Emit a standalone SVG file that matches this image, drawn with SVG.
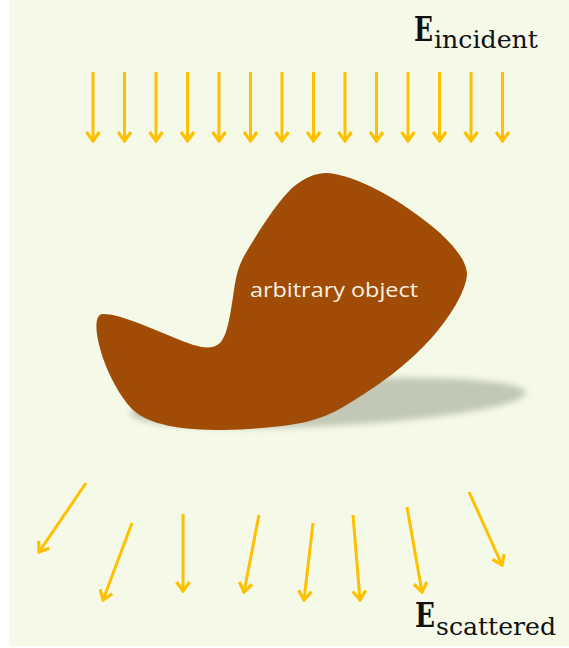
<svg xmlns="http://www.w3.org/2000/svg" width="569" height="648" viewBox="0 0 569 648">
<style>
.arr{stroke:#FFC000;stroke-width:3;fill:none;marker-end:url(#ah)}
.lbl{font-family:"DejaVu Serif","Liberation Serif",serif;fill:#111}
</style>
<defs>
<marker id="ah" markerUnits="userSpaceOnUse" viewBox="-12 -8 14 16" refX="0" refY="0" markerWidth="14" markerHeight="16" orient="auto">
<path d="M-9,-6.5 L0,0 L-9,6.5" fill="none" stroke="#FFC000" stroke-width="3.2" stroke-linejoin="miter"/>
</marker>
<filter id="blur" x="-20%" y="-100%" width="140%" height="300%"><feGaussianBlur stdDeviation="3"/></filter>
</defs>
<rect x="9" y="0" width="560" height="646" fill="#F5F9E8"/>
<g id="shadow">
<ellipse cx="328" cy="403" rx="198" ry="23" transform="rotate(-3 328 403)" fill="#C2C8B6" filter="url(#blur)"/>
</g>
<g id="object">
<path d="M327,173 C355,175 400,198 440,233 C458,250 467,263 467,275 C465,295 445,325 423,347 C405,365 385,382 343,407 C318,422 290,428 223,430 C180,430 150,425 133,410 C118,395 103,365 98,340 C95,325 96,314 103,314 C120,314 150,328 175,338 C195,346 210,352 220,343 C228,335 231,310 234,290 C237,270 240,262 250,246 C262,226 277,203 292,188 C304,178 315,173 327,173 Z" fill="#A04C06"/>
<text x="250" y="297" font-family="'Open Sans','Liberation Sans',sans-serif" font-size="20" fill="#F7F2E6" textLength="168" lengthAdjust="spacingAndGlyphs">arbitrary object</text>
</g>
<g id="incident-label">
<text class="lbl" x="414" y="41"><tspan font-size="34" font-weight="bold" textLength="19" lengthAdjust="spacingAndGlyphs">E</tspan><tspan font-size="25" dy="7" x="434" textLength="104" lengthAdjust="spacingAndGlyphs">incident</tspan></text>
</g>
<g id="scattered-label">
<text class="lbl" x="415" y="627"><tspan font-size="34" font-weight="bold" textLength="20" lengthAdjust="spacingAndGlyphs">E</tspan><tspan font-size="25" dy="8" x="436" textLength="120" lengthAdjust="spacingAndGlyphs">scattered</tspan></text>
</g>
<g id="connectors">
<line class="arr" x1="93" y1="72" x2="93" y2="141"/>
<line class="arr" x1="124.5" y1="72" x2="124.5" y2="141"/>
<line class="arr" x1="156" y1="72" x2="156" y2="141"/>
<line class="arr" x1="187.5" y1="72" x2="187.5" y2="141"/>
<line class="arr" x1="219" y1="72" x2="219" y2="141"/>
<line class="arr" x1="250.5" y1="72" x2="250.5" y2="141"/>
<line class="arr" x1="282" y1="72" x2="282" y2="141"/>
<line class="arr" x1="313.5" y1="72" x2="313.5" y2="141"/>
<line class="arr" x1="345" y1="72" x2="345" y2="141"/>
<line class="arr" x1="376.5" y1="72" x2="376.5" y2="141"/>
<line class="arr" x1="408" y1="72" x2="408" y2="141"/>
<line class="arr" x1="439.5" y1="72" x2="439.5" y2="141"/>
<line class="arr" x1="471" y1="72" x2="471" y2="141"/>
<line class="arr" x1="502.5" y1="72" x2="502.5" y2="141"/>
<line class="arr" x1="86" y1="483" x2="39" y2="552"/>
<line class="arr" x1="132" y1="523" x2="103" y2="600"/>
<line class="arr" x1="183" y1="514" x2="183" y2="591"/>
<line class="arr" x1="259" y1="515" x2="244" y2="592"/>
<line class="arr" x1="313" y1="523" x2="304" y2="600"/>
<line class="arr" x1="353" y1="515" x2="360" y2="600"/>
<line class="arr" x1="407" y1="507" x2="422" y2="592"/>
<line class="arr" x1="469" y1="492" x2="502" y2="565"/>
</g>
</svg>
